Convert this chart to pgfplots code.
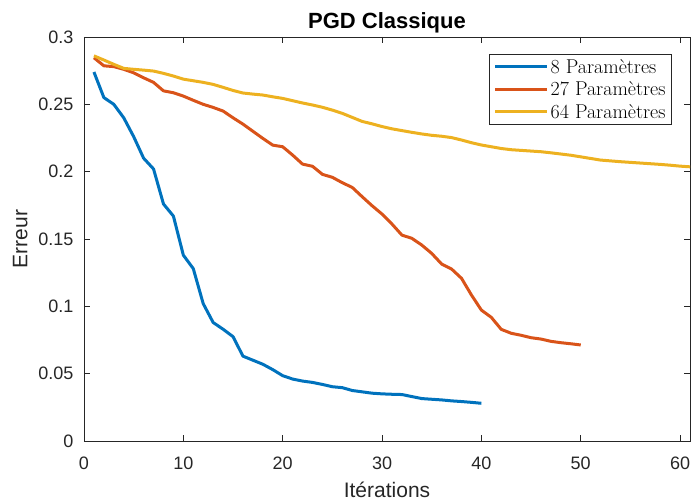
\documentclass[border=0pt]{standalone}
\usepackage{fontspec}
\usepackage{pgfplots}
\pgfplotsset{compat=1.18}
\newfontfamily\helv{Liberation Sans}
\definecolor{mblue}{rgb}{0,0.447,0.741}
\definecolor{morange}{rgb}{0.85,0.325,0.098}
\definecolor{myellow}{rgb}{0.929,0.694,0.125}
\definecolor{maxis}{rgb}{0.15,0.15,0.15}
\begin{document}
\begin{tikzpicture}[x=1pt,y=1pt]
\path[use as bounding box] (-84,-61) rectangle (608,441);
\begin{axis}[
  at={(0,0)}, anchor=south west,
  scale only axis, width=606pt, height=404pt,
  xmin=0, xmax=61, ymin=0, ymax=0.3,
  xtick={0,10,...,60}, ytick={0,0.05,...,0.3},
  yticklabels={0,0.05,0.1,0.15,0.2,0.25,0.3},
  scaled y ticks=false,
  tick align=inside, major tick length=6pt,
  axis line style={maxis, line width=0.8pt},
  every tick/.style={maxis, line width=0.8pt},
  /pgf/number format/assume math mode=true,
  tick label style={font=\helv\fontsize{18}{18}\selectfont, text=maxis},
  xticklabel style={yshift=-12pt},
  yticklabel style={xshift=-7pt},
  xlabel={Itérations}, ylabel={Erreur},
  xlabel style={font=\helv\fontsize{21}{21}\selectfont, text=maxis, yshift=-6pt},
  ylabel style={font=\helv\fontsize{21}{21}\selectfont, text=maxis, yshift=4pt},
  title={\textbf{PGD Classique}},
  title style={font=\helv\fontsize{22}{22}\selectfont, yshift=-6pt},
  clip=true,
  legend style={at={(0.97,0.958)}, anchor=north east, draw=maxis, line width=0.6pt,
    font=\fontsize{20}{20}\selectfont, inner xsep=4pt, inner ysep=3pt,
    row sep=3pt},
  legend cell align=left,
  legend image code/.code={\draw[#1, line width=3pt] (0pt,0pt) -- (52pt,0pt);},
]
\addplot[mblue, line width=3pt, line join=round] coordinates {
(1,0.274)(2,0.255)(3,0.250)(4,0.240)(5,0.226)(6,0.210)(7,0.202)(8,0.176)(9,0.167)(10,0.138)
(11,0.128)(12,0.102)(13,0.088)(14,0.083)(15,0.0775)(16,0.063)(17,0.060)(18,0.057)(19,0.053)(20,0.0485)
(21,0.046)(22,0.0445)(23,0.0435)(24,0.042)(25,0.0403)(26,0.0396)(27,0.0375)(28,0.0365)(29,0.0355)(30,0.035)
(31,0.0347)(32,0.0345)(33,0.033)(34,0.0315)(35,0.031)(36,0.0305)(37,0.0298)(38,0.0293)(39,0.0287)(40,0.028)
};
\addlegendentry{8 Paramètres}
\addplot[morange, line width=3pt, line join=round] coordinates {
(1,0.2846)(2,0.2786)(3,0.278)(4,0.276)(5,0.2734)(6,0.2697)(7,0.2663)(8,0.260)(9,0.2586)(10,0.2561)
(11,0.253)(12,0.250)(13,0.2477)(14,0.245)(15,0.240)(16,0.2353)(17,0.230)(18,0.2247)(19,0.2197)(20,0.2185)
(21,0.2123)(22,0.2056)(23,0.204)(24,0.198)(25,0.1958)(26,0.1918)(27,0.1883)(28,0.1814)(29,0.1747)(30,0.1685)
(31,0.1611)(32,0.1529)(33,0.1505)(34,0.1455)(35,0.1393)(36,0.1314)(37,0.1277)(38,0.1208)(39,0.1084)(40,0.0972)
(41,0.0918)(42,0.0829)(43,0.080)(44,0.0785)(45,0.0767)(46,0.0757)(47,0.074)(48,0.073)(49,0.0722)(50,0.0713)
};
\addlegendentry{27 Paramètres}
\addplot[myellow, line width=3pt, line join=round] coordinates {
(1,0.286)(2,0.2829)(3,0.2797)(4,0.2767)(5,0.276)(6,0.2754)(7,0.2747)(8,0.273)(9,0.271)(10,0.2687)
(11,0.2675)(12,0.2663)(13,0.2648)(14,0.2626)(15,0.2603)(16,0.2584)(17,0.2576)(18,0.2569)(19,0.2556)(20,0.2544)
(21,0.2527)(22,0.251)(23,0.2495)(24,0.2478)(25,0.2457)(26,0.2433)(27,0.2403)(28,0.2373)(29,0.2355)(30,0.2335)
(31,0.2318)(32,0.2305)(33,0.2292)(34,0.228)(35,0.227)(36,0.2263)(37,0.2253)(38,0.2235)(39,0.2215)(40,0.2198)
(41,0.2185)(42,0.2172)(43,0.2163)(44,0.2158)(45,0.2153)(46,0.2148)(47,0.214)(48,0.2131)(49,0.2122)(50,0.211)
(51,0.2098)(52,0.2086)(53,0.208)(54,0.2074)(55,0.2069)(56,0.2064)(57,0.2059)(58,0.2054)(59,0.2048)(60,0.2041)
(61,0.2036)(62,0.2031)(63,0.2025)(64,0.202)
};
\addlegendentry{64 Paramètres}
\end{axis}
\end{tikzpicture}
\end{document}
